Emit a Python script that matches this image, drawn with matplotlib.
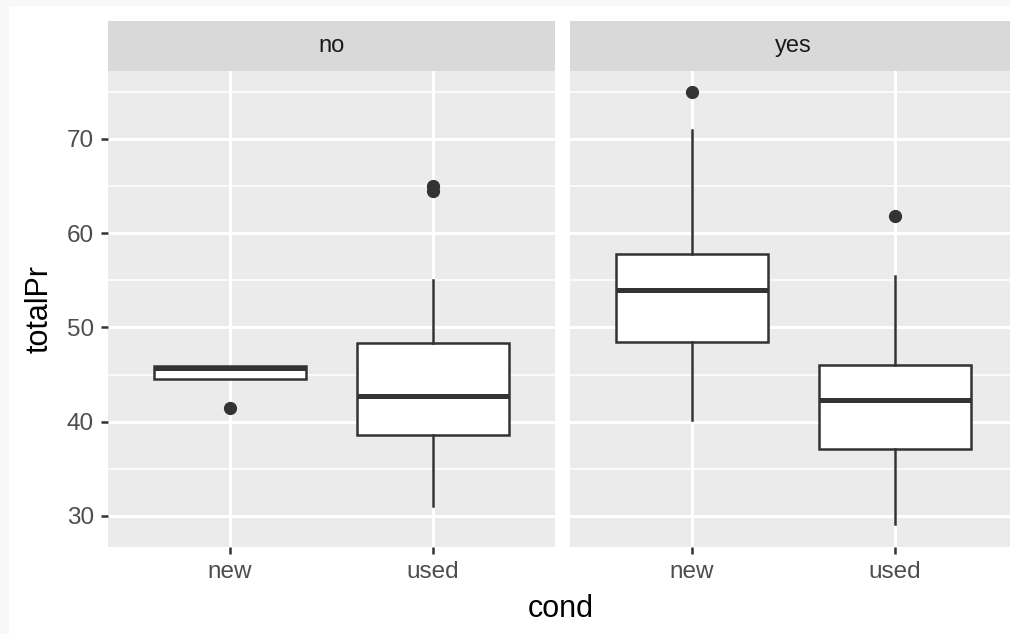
import matplotlib
matplotlib.use("Agg")
import matplotlib.pyplot as plt
from matplotlib.patches import Rectangle

plt.rcParams['font.family'] = ['Liberation Sans', 'DejaVu Sans']

# 数据：各面板（no / yes）的箱线图统计量
panels = ["no", "yes"]
conds = ["new", "used"]
q1 = {"no": [44.5, 38.6], "yes": [48.5, 37.1]}
med = {"no": [45.7, 42.7], "yes": [54.0, 42.3]}
q3 = {"no": [45.95, 48.3], "yes": [57.8, 46.0]}
wlo = {"no": [44.5, 31.1], "yes": [40.2, 29.1]}
whi = {"no": [45.95, 55.0], "yes": [71.0, 55.5]}
outliers = {"no": [[41.5], [64.5, 65.0]], "yes": [[75.0], [61.8]]}
yticks = [30, 40, 50, 60, 70]

W, H = 1010, 634
fig = plt.figure(figsize=(W / 100, H / 100), dpi=100, facecolor="white")
# 截图边缘的浅灰色边框
fig.patches.append(Rectangle((0, 1 - 5 / H), 1, 5 / H, transform=fig.transFigure,
                             color="#f8f8f8", zorder=-1))
fig.patches.append(Rectangle((0, 0), 8 / W, 1, transform=fig.transFigure,
                             color="#f8f8f8", zorder=-1))

dark = "#333333"
lefts = [108, 570]
pw = 447
bottom, top = 547, 71
for i, p in enumerate(panels):
    ax = fig.add_axes([lefts[i] / W, (H - bottom) / H, pw / W, (bottom - top) / H])
    stats = []
    for j, c in enumerate(conds):
        stats.append(dict(q1=q1[p][j], med=med[p][j], q3=q3[p][j],
                          whislo=wlo[p][j], whishi=whi[p][j],
                          fliers=outliers[p][j], label=c))
    ax.bxp(stats, positions=[1, 2], widths=0.75, showcaps=False, patch_artist=True,
           boxprops=dict(facecolor="white", edgecolor=dark, linewidth=1.8),
           whiskerprops=dict(color=dark, linewidth=1.8),
           medianprops=dict(color=dark, linewidth=3.6, solid_capstyle="butt"),
           flierprops=dict(marker="o", markerfacecolor=dark, markeredgecolor=dark,
                           markersize=8.5),
           zorder=3)
    ax.set_xlim(0.4, 2.6)
    ax.set_ylim(26.71, 77.21)
    ax.set_facecolor("#ebebeb")
    for s in ax.spines.values():
        s.set_visible(False)
    ax.set_yticks(yticks)
    ax.set_yticks([35, 45, 55, 65, 75], minor=True)
    ax.set_xticks([1, 2])
    ax.set_xticklabels(conds)
    ax.grid(True, which="major", color="white", linewidth=2.2, zorder=0)
    ax.grid(True, which="minor", axis="y", color="white", linewidth=1.1, zorder=0)
    ax.set_axisbelow(True)
    ax.tick_params(which="major", length=5, width=1.8, color=dark,
                   labelsize=17.5, labelcolor="#4d4d4d", pad=5)
    ax.tick_params(which="minor", length=0)
    if i == 0:
        ax.set_yticklabels([str(v) for v in yticks])
    else:
        ax.tick_params(axis="y", which="both", left=False, labelleft=False)

    # 分面标题条
    sx = fig.add_axes([lefts[i] / W, (H - top) / H, pw / W, 50 / H])
    sx.set_facecolor("#d9d9d9")
    sx.set_xticks([])
    sx.set_yticks([])
    for s in sx.spines.values():
        s.set_visible(False)
    sx.text(0.5, 0.5, p, ha="center", va="center", fontsize=17,
            color="#1a1a1a", transform=sx.transAxes)

fig.text(561 / W, 1 - 609 / H, "cond", ha="center", va="center", fontsize=22, color="black")
fig.text(40 / W, 1 - 309 / H, "totalPr", ha="center", va="center", fontsize=22,
         color="black", rotation=90)

fig.savefig("out.png", dpi=100, facecolor="white")
